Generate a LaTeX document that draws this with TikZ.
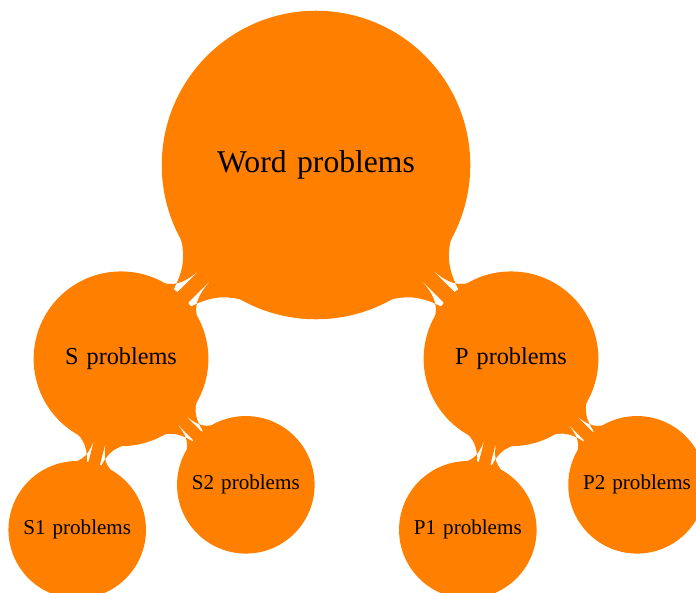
\documentclass[tikz,border=0pt]{standalone}
\usepackage{fontspec}
\setmainfont{Liberation Serif}
\usetikzlibrary{mindmap}
\tikzset{
  wordnode/.style={concept, minimum size=5.1cm, text width=4.4cm, align=center, text=black, font=\fontsize{15}{18}\selectfont},
  subnode/.style={concept, minimum size=2.87cm, text width=2.5cm, align=center, text=black, font=\fontsize{11.5}{14}\selectfont},
  leafnode/.style={concept, minimum size=2.25cm, text width=2cm, align=center, text=black, font=\fontsize{10}{12}\selectfont},
  link/.style={circle connection bar switch color=from (orange) to (orange)}
}
\begin{document}
\begin{tikzpicture}[mindmap, concept color=orange]
  \useasboundingbox (-5.267,2.75) rectangle (6.333,-7.133);
  \node[wordnode] (wp) at (0,0) {Word problems};
  \node[subnode] (sp) at (-3.25,-3.23) {S problems};
  \node[subnode] (pp) at (3.25,-3.23) {P problems};
  \node[leafnode] (s1) at (-3.98,-6.08) {S1 problems};
  \node[leafnode] (s2) at (-1.17,-5.33) {S2 problems};
  \node[leafnode] (p1) at (2.53,-6.08) {P1 problems};
  \node[leafnode] (p2) at (5.35,-5.33) {P2 problems};
  \path (wp) to[link] (sp);
  \path (wp) to[link] (pp);
  \path (sp) to[link] (s1);
  \path (sp) to[link] (s2);
  \path (pp) to[link] (p1);
  \path (pp) to[link] (p2);
\end{tikzpicture}
\end{document}
